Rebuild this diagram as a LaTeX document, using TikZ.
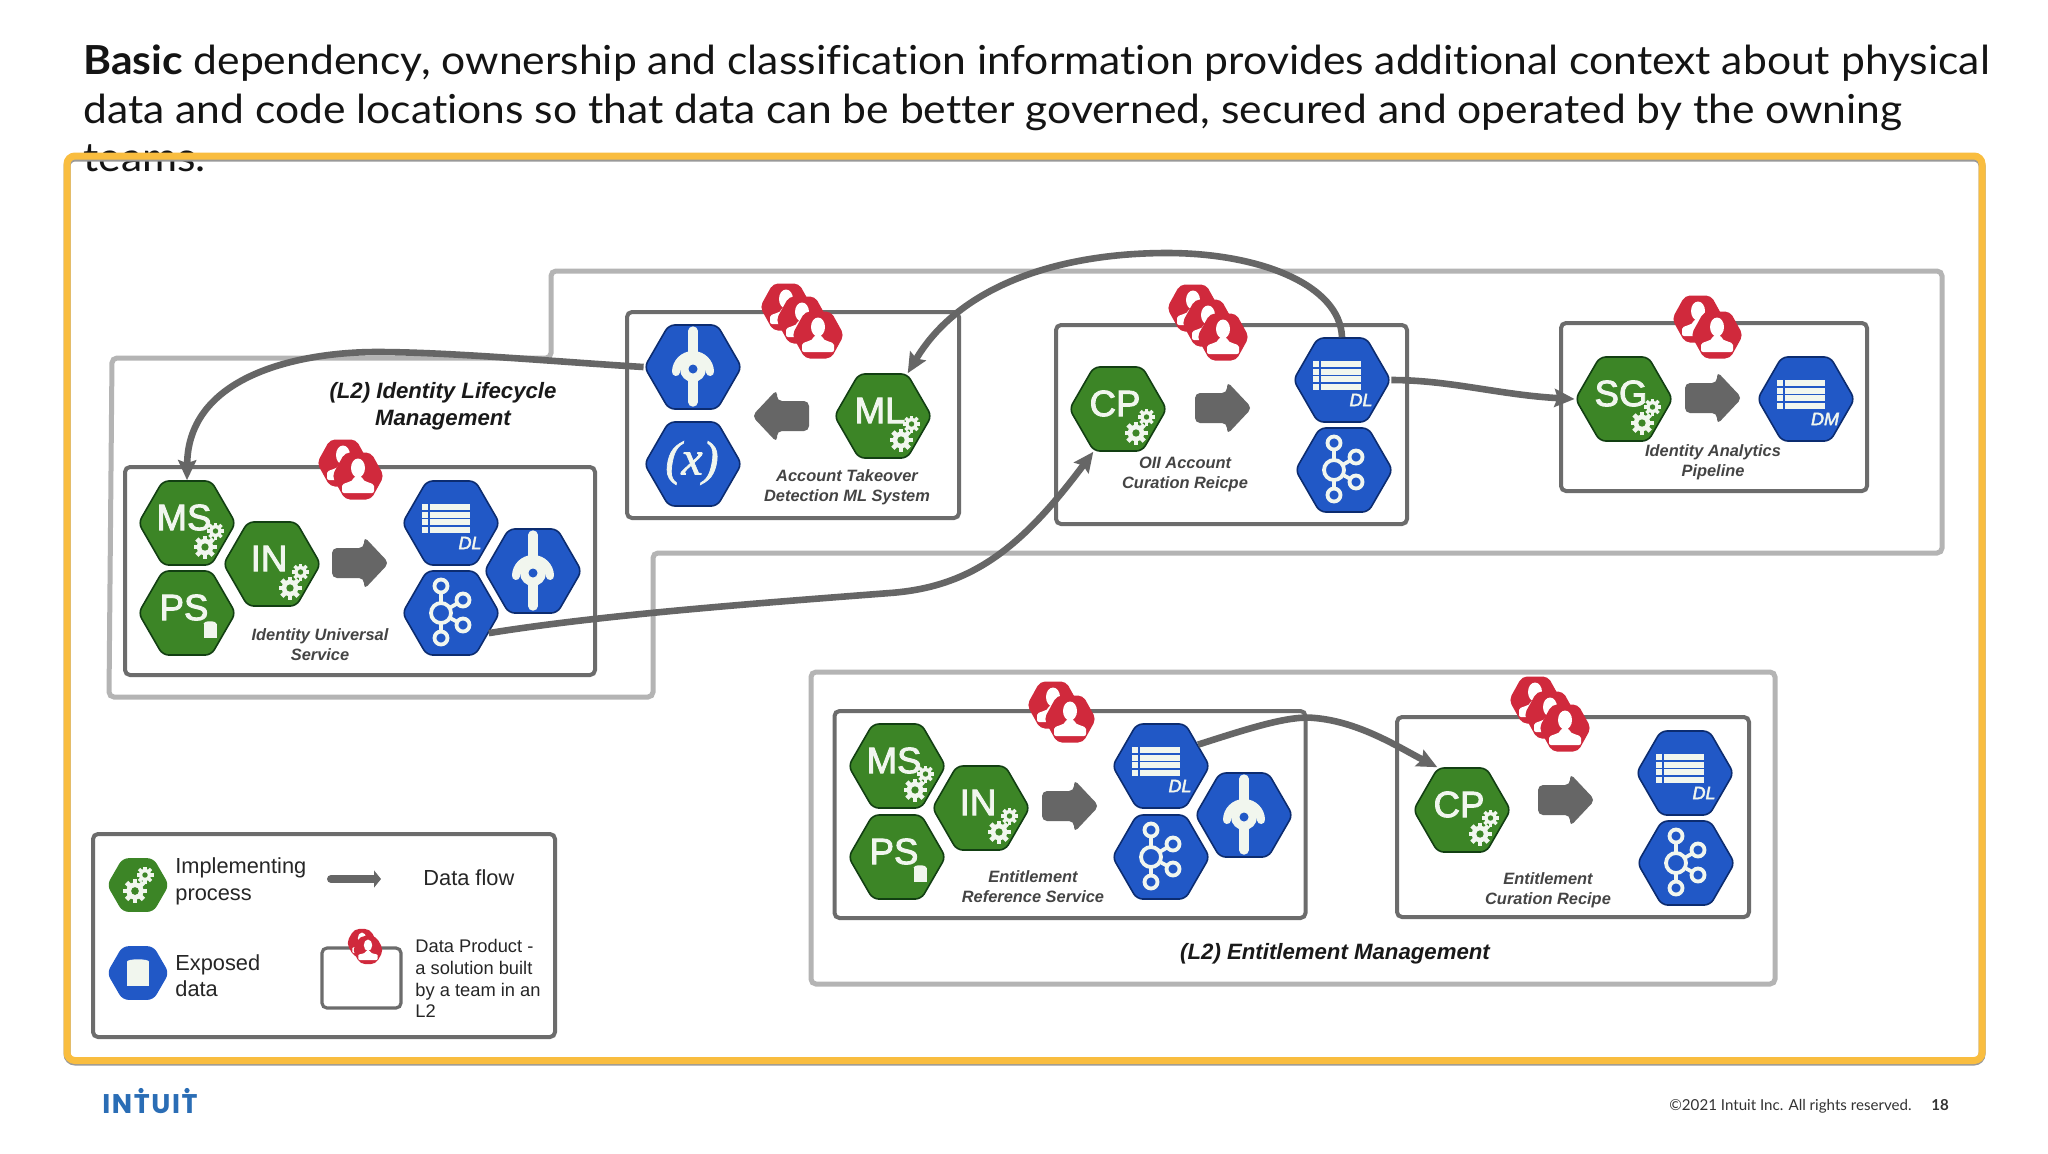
\documentclass[tikz,border=0pt]{standalone}
\usepackage{fontspec}
\usetikzlibrary{shapes.geometric,arrows.meta}
\setmainfont{Liberation Sans}
\newfontfamily\titlef{Lato}[Ligatures=NoCommon,FakeStretch=1.065]
\newfontfamily\footf{Lato}[Ligatures=NoCommon]
\newfontfamily\logof{Poppins}[LetterSpace=6]
\newfontfamily\serf{Liberation Serif}[FakeBold=1.5]
\newfontfamily\hexf{Liberation Sans}[FakeBold=2.5]
\definecolor{hexgreen}{HTML}{3C8526}
\definecolor{hexgreenD}{HTML}{123F12}
\definecolor{hexblue}{HTML}{2158C6}
\definecolor{hexblueD}{HTML}{0C2C70}
\definecolor{hexmark}{HTML}{F1F6EE}
\definecolor{ownred}{HTML}{D0293C}
\definecolor{flowgray}{HTML}{666666}
\definecolor{boxgray}{HTML}{6C6C6C}
\definecolor{lgray}{HTML}{B4B4B4}
\definecolor{yell}{HTML}{F9BD3F}
\definecolor{logoblue}{HTML}{2A6DB5}
\definecolor{labgray}{HTML}{444444}
\tikzset{
  ghex/.style={regular polygon,regular polygon sides=6,minimum size=48.5pt,inner sep=0pt,
     fill=hexgreen,draw=hexgreenD,line width=.8pt,rounded corners=3pt},
  bhex/.style={ghex,fill=hexblue,draw=hexblueD},
  lghex/.style={ghex,minimum size=31pt,draw=none},
  lbhex/.style={bhex,minimum size=31pt,draw=none},
  hexletter/.style={text=hexmark,inner sep=0pt,font=\fontsize{18.3}{19}\hexf},
  tag/.style={text=hexmark,inner sep=0pt,font=\fontsize{9}{10}\hexf\itshape},
  dp/.style={draw=boxgray,line width=2pt,rounded corners=2.5pt,fill=none,inner sep=0pt},
  l2/.style={draw=lgray,line width=2.5pt,rounded corners=2.5pt},
  lab/.style={text=labgray,align=center,inner sep=0pt,font=\fontsize{8.2}{9.9}\selectfont\bfseries\itshape},
  ltitle/.style={text=black!90,align=center,inner sep=0pt,font=\fontsize{11.1}{13.5}\selectfont\bfseries\itshape},
  flow/.style={draw=flowgray,line width=3.3pt,-{Stealth[length=10pt,width=9pt,inset=1.5pt]}},
  titletxt/.style={anchor=base west,inner sep=0pt,text=black!92,font=\fontsize{20}{24}\titlef},
  legtxt/.style={anchor=base west,inner sep=0pt,text=black!85,font=\fontsize{10.9}{13}\selectfont},
  legsmall/.style={anchor=base west,inner sep=0pt,text=black!85,font=\fontsize{9.15}{10.5}\selectfont},
  footer/.style={anchor=base west,inner sep=0pt,text=black!80,font=\fontsize{7.55}{9}\footf},
  owner/.pic={
    \fill[ownred,rounded corners=2.5pt] (26,0)--(13,-23.5)--(-13,-23.5)--(-26,0)--(-13,23.5)--(13,23.5)--cycle;
    \fill[white] (0,-8) ellipse (7 and 9.5);
    \fill[white,rounded corners=1pt] (-16,17)--(-16,12) .. controls (-16,6) and (-5,7) .. (-4,0) -- (4,0) .. controls (5,7) and (16,6) .. (16,12) -- (16,17) -- cycle;
  },
  blockarrow/.pic={
    \fill[flowgray,rounded corners=2.5pt] (-28,-15)--(4,-15)--(4,-26.5)--(29,0)--(4,26.5)--(4,15)--(-28,15)--cycle;
  }
}
\newcommand\gearmark[4]{% x y r holecolour
  \begin{scope}[shift={(#1,#2)},scale=#3]
    \foreach \a in {0,45,...,315}{\fill[hexmark,rotate=\a] (-.2,.55) rectangle (.2,1);}
    \fill[hexmark] (0,0) circle (.72);
    \fill[#4] (0,0) circle (.32);
  \end{scope}}
\newcommand\procgears[2]{\gearmark{#1+18}{#2+24}{11.5}{hexgreen}\gearmark{#1+28.5}{#2+8}{8.5}{hexgreen}}
\newcommand\gproc[4]{\node[ghex] (#1) at (#2,#3) {};
  \node[hexletter] (#1t) at (#2-3,#3-5.5) {#4};\procgears{#2}{#3}}
\newcommand\cyl[4]{% x y w h
  \begin{scope}[shift={(#1,#2)}]
    \fill[hexmark] (-#3/2,-#4/2+1.5) rectangle (#3/2,#4/2);
    \fill[hexmark] (0,-#4/2+1.5) ellipse (#3/2 and 2.2);
  \end{scope}}
\newcommand\gstore[4]{\node[ghex] (#1) at (#2,#3) {};
  \node[hexletter] (#1t) at (#2-3,#3-5.5) {#4};\cyl{#2+23}{#3+17}{13}{16}}
\newcommand\listhex[5]{\node[bhex] (#1) at (#2,#3) {};
  \begin{scope}[shift={(#2,#3)}]
    \foreach \r in {0,1,2,3}{
      \fill[hexmark] (-29,{-19+7.6*\r}) rectangle ++(6,6.2);
      \fill[hexmark] (-21.5,{-19+7.6*\r}) rectangle ++(40.5,6.2);}
  \end{scope}
  \node[tag] (#1t) at (#2+#5,#3+20) {#4};}
\newcommand\kafkahex[3]{\node[bhex] (#1) at (#2,#3) {};
  \begin{scope}[shift={(#2,#3)},line width=1.9pt]
    \draw[hexmark] (-10,0)--(-10,-27) (-10,0)--(-10,25) (-10,0)--(12,-13) (-10,0)--(12,12);
    \fill[hexblue] (-10,-27) circle (6.5);\draw[hexmark] (-10,-27) circle (6.5);
    \fill[hexblue] (-10,25) circle (6.5);\draw[hexmark] (-10,25) circle (6.5);
    \fill[hexblue] (12,-13) circle (6.5);\draw[hexmark] (12,-13) circle (6.5);
    \fill[hexblue] (12,12) circle (6.5);\draw[hexmark] (12,12) circle (6.5);
    \fill[hexblue] (-10,0) circle (10);\draw[hexmark] (-10,0) circle (10);
  \end{scope}}
\newcommand\gatehex[3]{\node[bhex] (#1) at (#2,#3) {};
  \begin{scope}[shift={(#2,#3)}]
    \draw[hexmark,line width=4pt,line cap=round] (-17,5) arc[start angle=180,end angle=360,x radius=17,y radius=17];
    \draw[hexmark,line width=4.7pt,line cap=round] (0,-36)--(0,35);
    \fill[hexmark] (0,2) circle (13);
    \fill[hexblue] (0,2) circle (4.5);
  \end{scope}}
\begin{document}
\begin{tikzpicture}[x=.5pt,y=-.5pt]
\useasboundingbox (0,0) rectangle (2048,1153);
\fill[white] (0,0) rectangle (2048,1153);
% title
\node[titletxt] (t1) at (83,74) {{\bfseries Basic} dependency, ownership and classification information provides additional context about physical};
\node[titletxt] (t2) at (83,123) {data and code locations so that data can be better governed, secured and operated by the owning};
\node[titletxt] (t3) at (83,171) {teams.};
% frame
\draw[gray!80,line width=3.5pt,rounded corners=4pt] (67,158) rectangle (1982,1062);
\draw[yell,line width=3.5pt,rounded corners=4pt] (67,156) rectangle (1982,1060.5);
% L2 outlines
\draw[l2] (112,358)--(551,358)--(551,271)--(1942,271)--(1942,553)--(653,553)--(653,697)--(109,697)--cycle;
\draw[l2] (811,672) rectangle (1775,984);
% data products
\node[dp,minimum width=235pt,minimum height=104pt] (p1) at (360,571) {};
\node[dp,minimum width=166pt,minimum height=103pt] (p2) at (793,415) {};
\node[dp,minimum width=175.5pt,minimum height=99.5pt] (p3) at (1231.5,424.5) {};
\node[dp,minimum width=153pt,minimum height=84pt] (p4) at (1714,407) {};
\node[dp,minimum width=235.5pt,minimum height=103.5pt] (p5) at (1070,814.5) {};
\node[dp,minimum width=176pt,minimum height=100pt] (p6) at (1573,817) {};
% owners
\pic at (343,463) {owner}; \pic at (358,476) {owner};
\pic at (786,307) {owner}; \pic at (802,320) {owner}; \pic at (818,335) {owner};
\pic at (1193,308) {owner}; \pic at (1208,323) {owner}; \pic at (1223,337) {owner};
\pic at (1698,319) {owner}; \pic at (1717,335) {owner};
\pic at (1053,705) {owner}; \pic at (1070,719) {owner};
\pic at (1535,700) {owner}; \pic at (1550,715) {owner}; \pic at (1565,728) {owner};
% block arrows
\pic at (360,563) {blockarrow};
\pic[xscale=-1] at (781,416) {blockarrow};
\pic at (1223,408) {blockarrow};
\pic at (1713,398) {blockarrow};
\pic at (1070,806) {blockarrow};
\pic at (1566,800) {blockarrow};
% labels
\node[ltitle] (n1) at (443,406) {(L2) Identity Lifecycle\\Management};
\node[ltitle] (n2) at (1335,954) {(L2) Entitlement Management};
\node[lab] (s1) at (320,645) {Identity Universal\\Service};
\node[lab] (s2) at (847,487.3) {Account Takeover\\Detection ML System};
\node[lab] (s3) at (1185,474.8) {OII Account\\Curation Reicpe};
\node[lab] (s4) at (1713,462.3) {Identity Analytics\\Pipeline};
\node[lab] (s5) at (1033,886.5) {Entitlement\\Reference Service};
\node[lab] (s6) at (1548,890.3) {Entitlement\\Curation Recipe};
% hexes p1
\gproc{ms}{187}{523}{MS}
\gproc{in}{272}{564}{IN}
\gstore{ps}{187}{613}{PS}
\listhex{dla}{451}{523}{DL}{19}
\gatehex{gwa}{533}{571}
\kafkahex{ka}{451}{613}
% p2
\gatehex{gwb}{693}{367}
\node[bhex] (xb) at (693,464) {};
\node[inner sep=0pt,text=hexmark,font=\fontsize{24}{25}\serf\itshape] (xbt) at (692,463) {(x)};
\gproc{ml}{883}{416}{ML}
% p3
\gproc{cpa}{1118}{409}{CP}
\listhex{dlb}{1342}{380}{DL}{19}
\kafkahex{kb}{1344}{470}
% p4
\gproc{sg}{1624}{399}{SG}
\listhex{dm}{1806}{399}{DM}{19}
% p5
\gproc{msc}{897}{766}{MS}
\gproc{inc}{981}{808}{IN}
\gstore{psc}{897}{857}{PS}
\listhex{dlc}{1161}{766}{DL}{19}
\gatehex{gwc}{1244}{815}
\kafkahex{kc}{1161}{857}
% p6
\gproc{cpd}{1462}{810}{CP}
\listhex{dld}{1685}{773}{DL}{19}
\kafkahex{kd}{1686}{863}
% connectors
\draw[flow] (gwb.west) .. controls (560,362) and (450,352) .. (377,352) .. controls (300,352) and (188,375) .. (ms.north);
\draw[flow] (dlb.north) .. controls (1340,285) and (1260,253) .. (1167,253) .. controls (1060,253) and (960,285) .. (ml.60);
\draw[flow] (ka.-28) .. controls (600,615) and (760,603) .. (890,593) .. controls (970,587) and (1020,550) .. (cpa.240);
\draw[flow] (dlb.east) .. controls (1450,380) and (1500,395) .. (sg.west);
\draw[flow] (dlc.30) .. controls (1250,728) and (1290,715) .. (1315,718) .. controls (1360,722) and (1400,748) .. (cpd.120);
% legend
\node[dp,minimum width=231pt,minimum height=101.5pt] (leg) at (324,935.5) {};
\node[lghex] (lg1) at (138,885) {};
\gearmark{135}{891}{12}{hexgreen}
\gearmark{145}{875}{8.5}{hexgreen}
\node[lbhex] (lg2) at (138,973) {};
\cyl{138}{973}{22}{26}
\node[legtxt] (lt1) at (175,873.5) {Implementing};
\node[legtxt] (lt2) at (175,900) {process};
\node[legtxt] (lt3) at (175,970) {Exposed};
\node[legtxt] (lt4) at (175,996) {data};
\coordinate (la) at (331,879);
\coordinate (lb) at (381,879);
\draw[flowgray,line width=4pt,line cap=round,-{Triangle[length=3.5pt,width=8.5pt]}] (la)--(lb);
\node[legtxt] (lt5) at (423,885) {Data flow};
\node[dp,minimum width=39.5pt,minimum height=30pt,line width=1.6pt] (lp) at (361.5,978) {};
\pic[scale=.6] at (362,943) {owner}; \pic[scale=.6] at (368,950) {owner};
\node[legsmall] (l1) at (415,952) {Data Product -};
\node[legsmall] (l2) at (415,974) {a solution built};
\node[legsmall] (l3) at (415,996) {by a team in an};
\node[legsmall] (l4) at (415,1017) {L2};
% logo and footer
\node[anchor=base west,inner sep=0pt,text=logoblue,font=\fontsize{13.5}{14}\logof\bfseries] (logo) at (102,1113) {INTUIT};
\fill[logoblue] (141,1090.5) circle (2.6) (187,1090.5) circle (2.6);
\node[footer] (f1) at (1669,1110) {©2021 Intuit Inc. All rights reserved.};
\node[footer,font=\fontsize{7.55}{9}\footf\bfseries] (f2) at (1931,1110) {18};
\end{tikzpicture}
\end{document}
